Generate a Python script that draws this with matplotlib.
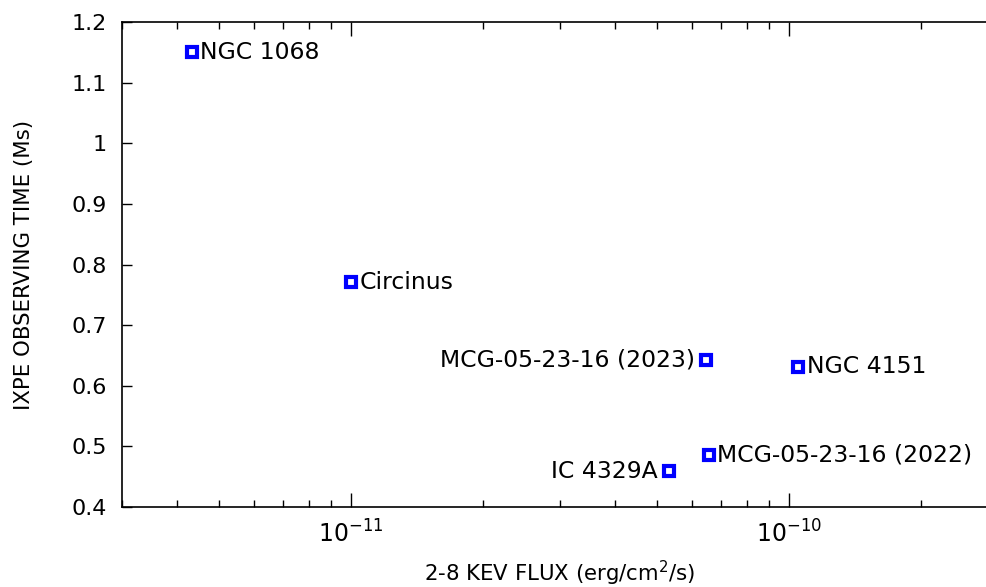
import matplotlib.pyplot as plt
from matplotlib.ticker import FormatStrFormatter, LogLocator, FixedLocator

# IXPE sources: 2-8 keV flux vs observing time
names = ['NGC 1068', 'Circinus', 'MCG-05-23-16 (2023)', 'NGC 4151',
         'MCG-05-23-16 (2022)', 'IC 4329A']
flux = [4.33e-12, 1.0e-11, 6.47e-11, 1.05e-10, 6.57e-11, 5.33e-11]
time = [1.150, 0.771, 0.642, 0.631, 0.486, 0.459]
side = ['right', 'right', 'left', 'right', 'right', 'left']
xticks = [1e-11, 1e-10]

fig = plt.figure(figsize=(9.87, 5.87), dpi=100)
ax = fig.add_axes([0.1236, 0.1363, 0.8875, 0.8262])

ax.plot(flux, time, 's', ms=7, mfc='white', mec='#0000ff', mew=3, ls='none')

for n, fx, t, s in zip(names, flux, time, side):
    if s == 'right':
        ax.annotate(n, (fx, t), xytext=(6, 0), textcoords='offset points',
                    ha='left', va='center', fontsize=16.9)
    else:
        ax.annotate(n, (fx, t), xytext=(-8, 0), textcoords='offset points',
                    ha='right', va='center', fontsize=16.9)

ax.set_xscale('log')
ax.set_xlim(3e-12, 3e-10)
ax.set_ylim(0.4, 1.2)
ax.set_yticks([0.4, 0.5, 0.6, 0.7, 0.8, 0.9, 1.0, 1.1, 1.2])
ax.yaxis.set_major_formatter(FormatStrFormatter('%g'))
ax.xaxis.set_major_locator(FixedLocator(xticks))
ax.xaxis.set_minor_locator(LogLocator(base=10, subs=range(2, 10), numticks=20))
ax.xaxis.set_minor_formatter(plt.NullFormatter())

ax.tick_params(which='both', direction='in', top=True, right=True, labelsize=16)
ax.tick_params(axis='x', which='major', length=10, width=1, pad=10, labelsize=17)
ax.tick_params(axis='x', which='minor', length=5, width=1)
ax.tick_params(axis='y', which='major', length=7, width=1, pad=11)
ax.tick_params(axis='y', which='minor', length=0)
for sp in ax.spines.values():
    sp.set_linewidth(1.2)

ax.set_xlabel('2-8 KEV FLUX (erg/cm$^2$/s)', fontsize=15.3, labelpad=8)
ax.set_ylabel('IXPE OBSERVING TIME (Ms)', fontsize=15.3, labelpad=27)

fig.savefig('out.png', dpi=100)
plt.close()
